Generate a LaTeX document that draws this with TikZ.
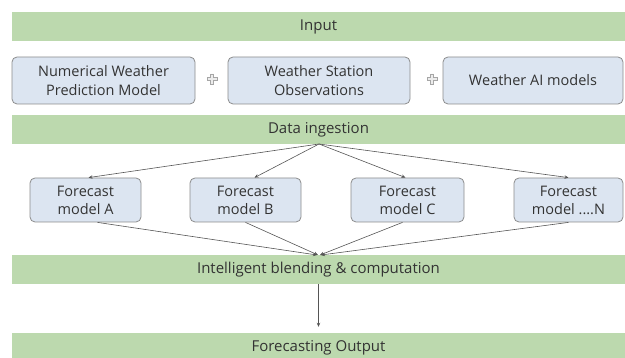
\documentclass[tikz,border=0pt]{standalone}
\usepackage{fontspec}
\setmainfont{Open Sans}
\usetikzlibrary{arrows.meta,calc}
\definecolor{barg}{HTML}{BCD9AE}
\definecolor{boxb}{HTML}{DCE5F1}
\definecolor{boxd}{HTML}{8C8C8C}
\definecolor{txt}{HTML}{333333}
\definecolor{lin}{HTML}{555555}
\tikzset{
  bar/.style={fill=barg,draw=none,minimum width=613pt,minimum height=29pt,inner sep=0pt,text=txt,font=\fontsize{15}{17}\selectfont},
  inbox/.style={fill=boxb,draw=boxd,line width=0.8pt,rounded corners=5pt,minimum height=47pt,inner sep=0pt,align=center,text=txt,font=\fontsize{14.5}{19}\selectfont},
  fbox/.style={fill=boxb,draw=boxd,line width=0.8pt,rounded corners=5pt,minimum height=44pt,inner sep=0pt,align=center,text=txt,font=\fontsize{14.5}{18}\selectfont},
  conn/.style={draw=lin,line width=0.6pt,-{Stealth[length=4pt,width=3.5pt]}},
  plusmark/.style={draw=gray!70,fill=gray!15,line width=0.6pt}
}
\begin{document}
\begin{tikzpicture}[x=1pt,y=-1pt]
\useasboundingbox (0,0) rectangle (625,358);
\begin{scope}
\clip (0,0) rectangle (625,358);
\node[bar] (input) at (318.5,26.5) {Input};
\node[inbox,minimum width=183pt] (nwp) at (103.5,80.5) {Numerical Weather\\Prediction Model};
\node[inbox,minimum width=182pt] (wso) at (319,80.5) {Weather Station\\Observations};
\node[inbox,minimum width=180pt] (wai) at (533,80.5) {Weather AI models};
\node (p1) at (212,79) {};
\node (p2) at (432,79) {};
\foreach \p in {p1,p2}{
  \draw[plusmark] ($(\p)+(-1.5,-5)$) -- ($(\p)+(1.5,-5)$) -- ($(\p)+(1.5,-1.5)$) -- ($(\p)+(5,-1.5)$) -- ($(\p)+(5,1.5)$) -- ($(\p)+(1.5,1.5)$) -- ($(\p)+(1.5,5)$) -- ($(\p)+(-1.5,5)$) -- ($(\p)+(-1.5,1.5)$) -- ($(\p)+(-5,1.5)$) -- ($(\p)+(-5,-1.5)$) -- ($(\p)+(-1.5,-1.5)$) -- cycle;
}
\node[bar] (ingest) at (318.5,129.5) {Data ingestion};
\node[fbox,minimum width=111pt] (fa) at (85.5,200) {Forecast\\model A};
\node[fbox,minimum width=111pt] (fb) at (245.5,200) {Forecast\\model B};
\node[fbox,minimum width=113pt] (fc) at (407.5,200) {Forecast\\model C};
\node[fbox,minimum width=109pt] (fn) at (568.5,200) {Forecast\\model ....N};
\node[bar] (blend) at (318.5,269.5) {Intelligent blending \& computation};
\node[bar] (output) at (318.5,347.5) {Forecasting Output};
\coordinate (src) at (319,144);
\coordinate (dst) at (319,255);
\draw[conn] (src) -- ($(fa.north)+(3,0)$);
\draw[conn] (src) -- ($(fb.north)+(9,0)$);
\draw[conn] (src) -- ($(fc.north)+(-2,0)$);
\draw[conn] (src) -- (fn.north);
\draw[conn] ($(fa.south)+(12,0)$) -- ($(dst)+(-2,0)$);
\draw[conn] (fb.south) -- ($(dst)+(-1,0)$);
\draw[conn] ($(fc.south)+(-5,0)$) -- ($(dst)+(1,0)$);
\draw[conn] (fn.south) -- ($(dst)+(2,0)$);
\draw[conn] (blend.south) -- ($(output.north)+(0,-6)$);
\end{scope}
\end{tikzpicture}
\end{document}
